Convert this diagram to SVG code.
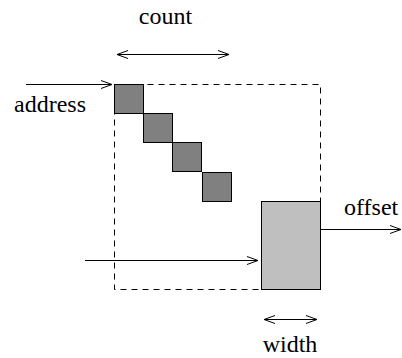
<svg xmlns="http://www.w3.org/2000/svg" width="402" height="358" viewBox="0 0 402 358">
  <style>
    .ln { stroke: #000; stroke-width: 1; fill: none; }
    .dk { fill: #808080; stroke: #000; stroke-width: 1; }
    .lt { fill: #bfbfbf; stroke: #000; stroke-width: 1; }
    .lbl { font-family: "Liberation Serif", Tinos, "Times New Roman", Times, "Nimbus Roman", serif; font-size: 24px; fill: #000; }
  </style>
  <defs>
    <marker id="head" markerWidth="12" markerHeight="10" refX="11" refY="5" orient="auto-start-reverse" markerUnits="userSpaceOnUse">
      <path d="M0,1 L11,5 L0,9" fill="none" stroke="#000" stroke-width="1"/>
    </marker>
  </defs>

  <!-- region outline -->
  <g id="region">
    <rect x="114.5" y="84.5" width="206" height="205" fill="none" stroke="#000" stroke-width="1" stroke-dasharray="6,5"/>
  </g>

  <!-- diagonal run of cells -->
  <g id="cells">
    <rect class="dk" x="114.5" y="84.5" width="29" height="29"/>
    <rect class="dk" x="143.5" y="113.5" width="29" height="29"/>
    <rect class="dk" x="172.5" y="142.5" width="29" height="29"/>
    <rect class="dk" x="202.5" y="172.5" width="29" height="29"/>
  </g>

  <!-- output block -->
  <g id="block">
    <rect class="lt" x="261.5" y="201.5" width="59" height="88"/>
  </g>

  <g id="labels">
    <text class="lbl" x="165.5" y="24" text-anchor="middle">count</text>
    <text class="lbl" x="14" y="112">address</text>
    <text class="lbl" x="344" y="215">offset</text>
    <text class="lbl" x="290" y="352" text-anchor="middle">width</text>
  </g>

  <g id="connectors">
    <line class="ln" x1="117" y1="54.5" x2="229" y2="54.5" marker-start="url(#head)" marker-end="url(#head)"/>
    <line class="ln" x1="26" y1="84.5" x2="112" y2="84.5" marker-end="url(#head)"/>
    <line class="ln" x1="85" y1="260.5" x2="258" y2="260.5" marker-end="url(#head)"/>
    <line class="ln" x1="321" y1="229.5" x2="401" y2="229.5" marker-end="url(#head)"/>
    <line class="ln" x1="264" y1="319.5" x2="317" y2="319.5" stroke-width="1.5" marker-start="url(#head)" marker-end="url(#head)"/>
  </g>
</svg>
